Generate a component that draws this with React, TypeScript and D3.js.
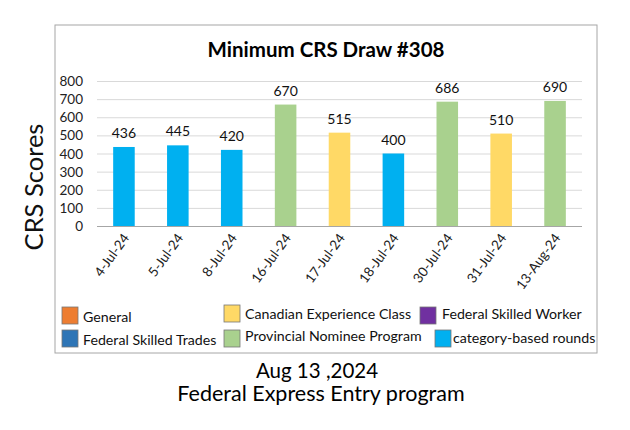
import React from "react";
import * as d3 from "d3";

const dates = ["4-Jul-24", "5-Jul-24", "8-Jul-24", "16-Jul-24", "17-Jul-24", "18-Jul-24", "30-Jul-24", "31-Jul-24", "13-Aug-24"];
const scores = [436, 445, 420, 670, 515, 400, 686, 510, 690];
const programs = ["cat", "cat", "cat", "pnp", "cec", "cat", "pnp", "cec", "pnp"];
const yTicks = [0, 100, 200, 300, 400, 500, 600, 700, 800];

const legendKeys = ["gen", "cec", "fsw", "fst", "pnp", "cat"];
const legendLabels = ["General", "Canadian Experience Class", "Federal Skilled Worker", "Federal Skilled Trades", "Provincial Nominee Program", "category-based rounds"];

const colors: Record<string, string> = {
  gen: "#ED7D31",
  cec: "#FFD966",
  fsw: "#7030A0",
  fst: "#2E75B6",
  pnp: "#A9D18E",
  cat: "#00B0F0",
};

const FONT = "Lato, 'Open Sans', sans-serif";

export default function App() {
  const W = 630, H = 430;
  const x = d3.scaleBand<string>().domain(dates).range([97, 582]).paddingInner(0.6).paddingOuter(0.3);
  const y = d3.scaleLinear().domain([0, 800]).range([226, 81]);

  const legendPos = [
    { sx: 62, sy: 307, tx: 83, ty: 322 },
    { sx: 224, sy: 305, tx: 245, ty: 319 },
    { sx: 420, sy: 307, tx: 442, ty: 319 },
    { sx: 62, sy: 330, tx: 83, ty: 345 },
    { sx: 224, sy: 330, tx: 245, ty: 341 },
    { sx: 435, sy: 330, tx: 453, ty: 343 },
  ];

  return (
    <svg width={W} height={H} style={{ position: "absolute", left: 0, top: 0, background: "#fff" }} fontFamily={FONT}>
      <rect x={0} y={0} width={W} height={H} fill="#fff" />
      <rect x={55} y={25} width={542} height={328} fill="none" stroke="#a6a6a6" strokeWidth={1} />
      <text x={326} y={57} textAnchor="middle" fontSize={20.5} fontWeight="bold" fill="#000">Minimum CRS Draw #308</text>

      {yTicks.map((t) => (
        <g key={t}>
          {t > 0 && <line x1={97} x2={582} y1={y(t) + 0.5} y2={y(t) + 0.5} stroke="#d9d9d9" />}
          <text x={83} y={y(t) + 5} textAnchor="end" fontSize={13.5} fill="#222">{t}</text>
        </g>
      ))}

      {dates.map((d, i) => (
        <g key={d}>
          <rect x={x(d)} y={y(scores[i])} width={x.bandwidth()} height={y(0) - y(scores[i])} fill={colors[programs[i]]} />
          <text x={(x(d) as number) + x.bandwidth() / 2} y={y(scores[i]) - 9} textAnchor="middle" fontSize={14} fill="#111">{scores[i]}</text>
          <text
            transform={`translate(${(x(d) as number) + x.bandwidth() / 2 + 6},${238}) rotate(-54)`}
            textAnchor="end"
            fontSize={13.5}
            fill="#222"
          >{d}</text>
        </g>
      ))}
      <line x1={97} x2={582} y1={y(0) + 0.5} y2={y(0) + 0.5} stroke="#a6a6a6" />

      <text transform="translate(43,187) rotate(-90)" textAnchor="middle" fontSize={25.5} fill="#111">CRS Scores</text>

      {legendKeys.map((k, i) => (
        <g key={k}>
          <rect x={legendPos[i].sx} y={legendPos[i].sy} width={16} height={17} fill={colors[k]} stroke="#777" strokeWidth={0.8} />
          <text x={legendPos[i].tx} y={legendPos[i].ty} fontSize={14.2} fill="#111">{legendLabels[i]}</text>
        </g>
      ))}

      <text x={317} y={378} textAnchor="middle" fontSize={20.5} fill="#000">Aug 13 ,2024</text>
      <text x={321} y={401} textAnchor="middle" fontSize={21.5} fill="#000">Federal Express Entry program</text>
    </svg>
  );
}
